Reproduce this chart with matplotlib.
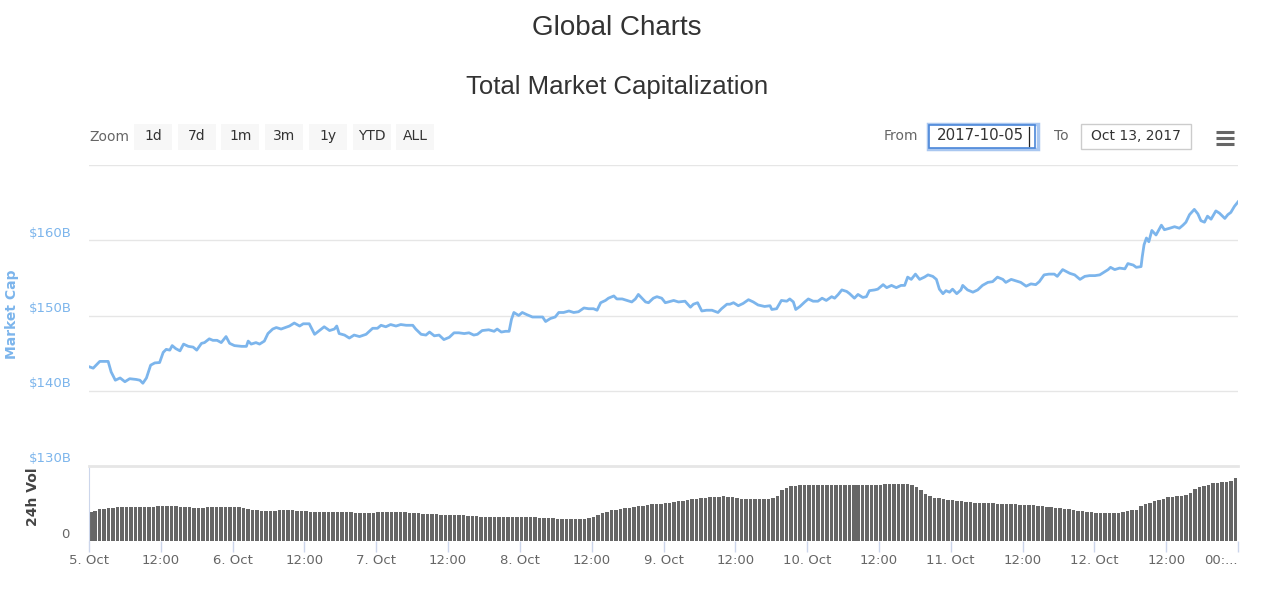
import matplotlib
matplotlib.use('Agg')
import matplotlib.pyplot as plt
from matplotlib.patches import Rectangle
from matplotlib.lines import Line2D
import matplotlib.transforms as mtransforms

# market cap, hours since 5 Oct 2017 00:00 -> $B
cap_hours = [
    0.0, 0.7, 1.8, 3.2, 3.7, 4.4, 5.2, 6.0, 6.8, 7.9, 8.5, 9.0, 9.6, 10.3, 11.0, 11.8,
    12.4, 12.9, 13.5, 13.9, 14.5, 15.2, 15.8, 16.6, 17.4, 18.0, 18.8, 19.3, 20.1, 20.7,
    21.4, 22.1, 22.9, 23.5, 24.3, 25.5, 26.3, 26.6, 27.1, 27.9, 28.5, 29.3, 29.9, 30.7,
    31.3, 32.1, 33.5, 34.3, 35.2, 35.8, 36.8, 37.7, 38.5, 39.3, 40.2, 41.0, 41.4, 41.8,
    42.7, 43.5, 44.3, 45.2, 46.3, 47.4, 48.2, 48.8, 49.6, 50.4, 51.3, 52.1, 53.0, 54.1,
    54.6, 55.5, 56.3, 56.9, 57.7, 58.5, 59.3, 60.2, 61.0, 61.8, 62.7, 63.5, 64.3, 64.9,
    65.7, 66.8, 67.7, 68.2, 68.9, 69.6, 70.2, 70.6, 71.0, 71.8, 72.4, 73.2, 74.1, 74.9,
    75.8, 76.3, 77.1, 77.9, 78.5, 79.3, 80.2, 81.0, 81.8, 82.7, 83.5, 84.3, 84.9, 85.5,
    86.3, 86.8, 87.7, 88.2, 89.1, 89.9, 90.7, 91.3, 91.8, 92.4, 93.0, 93.5, 94.3, 94.9,
    95.7, 96.3, 96.8, 97.7, 98.5, 99.6, 100.5, 101.0, 101.7, 102.4, 103.2, 104.1, 105.1,
    105.7, 106.6, 107.1, 107.7, 108.5, 109.3, 110.2, 111.0, 111.8, 112.9, 113.8, 114.1,
    114.9, 115.7, 116.6, 117.1, 117.7, 118.1, 118.8, 119.6, 120.2, 121.0, 121.8, 122.5,
    123.2, 124.1, 124.6, 125.2, 125.8, 126.6, 127.1, 127.9, 128.5, 129.3, 129.9, 130.4,
    131.3, 131.8, 132.7, 133.3, 134.1, 134.9, 135.7, 136.3, 136.8, 137.4, 138.1, 138.8,
    139.6, 140.2, 141.0, 141.6, 142.1, 142.7, 143.2, 143.8, 144.3, 145.0, 145.7, 146.0,
    146.8, 147.7, 148.5, 149.3, 150.2, 151.0, 151.8, 152.7, 153.2, 154.1, 154.9, 155.7,
    156.6, 157.4, 158.2, 158.8, 159.6, 160.4, 161.3, 161.8, 162.7, 163.9, 164.7, 165.6,
    166.4, 167.2, 168.1, 168.9, 169.5, 170.3, 170.7, 171.4, 172.2, 173.1, 173.6, 174.5,
    175.0, 175.8, 176.0, 176.3, 176.7, 177.1, 177.6, 178.3, 179.2, 179.7, 180.6, 181.4,
    182.2, 182.8, 183.3, 183.9, 184.7, 185.3, 185.8, 186.4, 186.9, 187.5, 188.3, 188.9,
    189.8, 190.3, 190.8, 191.4, 192.0,
]
cap_values = [
    143.2, 143.0, 143.9, 143.9, 142.5, 141.4, 141.7, 141.2, 141.6, 141.5, 141.4, 141.0,
    141.7, 143.4, 143.7, 143.75, 145.1, 145.5, 145.4, 146.0, 145.6, 145.3, 146.2, 145.9,
    145.8, 145.4, 146.3, 146.4, 146.9, 146.7, 146.7, 146.4, 147.2, 146.3, 146.0, 145.9,
    145.9, 146.6, 146.2, 146.4, 146.2, 146.6, 147.6, 148.2, 148.4, 148.2, 148.6, 149.0,
    148.6, 148.9, 148.9, 147.5, 148.0, 148.5, 148.0, 148.2, 148.6, 147.6, 147.4, 147.0,
    147.4, 147.2, 147.5, 148.3, 148.3, 148.7, 148.5, 148.8, 148.6, 148.8, 148.7, 148.7,
    148.2, 147.5, 147.4, 147.8, 147.3, 147.4, 146.8, 147.1, 147.7, 147.7, 147.6, 147.7,
    147.4, 147.5, 148.0, 148.1, 147.9, 148.2, 147.8, 147.9, 147.9, 149.5, 150.4, 150.0,
    150.4, 150.1, 149.8, 149.8, 149.8, 149.2, 149.6, 149.8, 150.4, 150.4, 150.6, 150.4,
    150.5, 151.0, 150.9, 150.9, 150.7, 151.7, 152.0, 152.3, 152.6, 152.2, 152.2, 152.0,
    151.8, 152.2, 152.8, 152.3, 151.8, 151.7, 152.3, 152.5, 152.3, 151.7, 151.8, 152.0,
    151.8, 151.9, 151.1, 151.5, 151.7, 150.6, 150.7, 150.7, 150.4, 150.9, 151.5, 151.5,
    151.7, 151.3, 151.6, 152.1, 151.8, 151.4, 151.2, 151.3, 150.8, 150.9, 152.0, 151.9,
    152.2, 151.8, 150.8, 151.2, 151.8, 152.2, 151.9, 151.9, 152.3, 152.0, 152.5, 152.3,
    152.8, 153.4, 153.2, 152.9, 152.3, 152.8, 152.4, 152.5, 153.3, 153.4, 153.5, 154.1,
    153.7, 154.0, 153.7, 154.0, 154.0, 155.1, 154.8, 155.5, 154.8, 155.1, 155.4, 155.2,
    154.8, 153.5, 152.9, 153.3, 153.1, 153.5, 152.9, 153.4, 154.0, 153.4, 153.1, 153.4,
    154.0, 154.4, 154.5, 155.1, 154.8, 154.4, 154.8, 154.6, 154.4, 153.9, 154.2, 154.1,
    154.5, 155.4, 155.5, 155.5, 155.2, 156.1, 155.6, 155.4, 154.8, 155.2, 155.3, 155.3,
    155.4, 155.7, 156.1, 156.4, 156.1, 156.3, 156.2, 156.9, 156.7, 156.4, 156.5, 157.8,
    159.4, 160.3, 159.8, 161.3, 160.7, 162.0, 161.4, 161.6, 161.8, 161.6, 162.0, 162.4,
    163.4, 164.1, 163.5, 162.6, 162.4, 163.2, 162.8, 163.9, 163.6, 162.9, 163.4, 163.7,
    164.5, 165.1,
]

# 24h volume, one bar every 45 minutes, $B (one row per day)
vol_step_hours = 0.75
vol_values = [
    3.06, 3.25, 3.38, 3.46, 3.52, 3.57, 3.62, 3.64, 3.65, 3.66, 3.67, 3.67, 3.66, 3.64, 3.68, 3.72,
    3.75, 3.76, 3.74, 3.69, 3.62, 3.60, 3.58, 3.55, 3.54, 3.56, 3.59, 3.61, 3.60, 3.60, 3.60, 3.60,
    3.60, 3.60, 3.55, 3.45, 3.36, 3.27, 3.24, 3.24, 3.24, 3.24, 3.26, 3.33, 3.35, 3.30, 3.24, 3.20,
    3.16, 3.12, 3.10, 3.10, 3.10, 3.11, 3.10, 3.10, 3.09, 3.09, 3.05, 3.02, 3.00, 3.00, 3.01, 3.03,
    3.06, 3.10, 3.13, 3.14, 3.13, 3.10, 3.06, 3.03, 3.00, 2.97, 2.93, 2.88, 2.84, 2.83, 2.82, 2.81,
    2.80, 2.79, 2.78, 2.74, 2.69, 2.65, 2.62, 2.60, 2.58, 2.57, 2.56, 2.55, 2.54, 2.54, 2.54, 2.54,
    2.54, 2.53, 2.52, 2.51, 2.49, 2.47, 2.45, 2.43, 2.40, 2.38, 2.36, 2.35, 2.34, 2.32, 2.34, 2.45,
    2.60, 2.78, 2.95, 3.10, 3.26, 3.35, 3.43, 3.50, 3.56, 3.62, 3.70, 3.77, 3.84, 3.90, 3.95, 4.00,
    4.05, 4.10, 4.17, 4.25, 4.32, 4.39, 4.45, 4.52, 4.57, 4.62, 4.65, 4.69, 4.72, 4.76, 4.74, 4.66,
    4.58, 4.53, 4.50, 4.47, 4.45, 4.43, 4.45, 4.52, 4.60, 4.80, 5.41, 5.70, 5.86, 5.92, 5.95, 5.95,
    5.95, 5.95, 5.95, 5.96, 5.96, 5.96, 5.96, 5.96, 5.96, 5.96, 5.96, 5.96, 5.96, 5.96, 5.97, 5.97,
    6.02, 6.04, 6.05, 6.05, 6.05, 6.05, 6.05, 6.00, 5.78, 5.40, 5.00, 4.75, 4.60, 4.55, 4.48, 4.42,
    4.38, 4.32, 4.22, 4.15, 4.12, 4.08, 4.05, 4.03, 4.02, 4.01, 4.00, 3.98, 3.95, 3.92, 3.90, 3.88,
    3.85, 3.82, 3.80, 3.77, 3.72, 3.65, 3.58, 3.54, 3.50, 3.45, 3.38, 3.30, 3.22, 3.15, 3.10, 3.06,
    3.04, 3.02, 3.00, 3.00, 3.00, 3.00, 3.10, 3.24, 3.28, 3.32, 3.70, 3.92, 4.10, 4.26, 4.40, 4.52,
    4.65, 4.74, 4.80, 4.85, 4.95, 5.10, 5.60, 5.75, 5.88, 6.02, 6.15, 6.22, 6.30, 6.34, 6.38, 6.67,
]

cap_ticks = [130, 140, 150, 160, 170]
cap_labels = ['$130B', '$140B', '$150B', '$160B', '']
x_ticks = [0, 12, 24, 36, 48, 60, 72, 84, 96, 108, 120, 132, 144, 156, 168, 180, 192]
x_labels = ['5. Oct', '12:00', '6. Oct', '12:00', '7. Oct', '12:00', '8. Oct', '12:00',
            '9. Oct', '12:00', '10. Oct', '12:00', '11. Oct', '12:00', '12. Oct', '12:00', '00:...']
zoom_buttons = ['1d', '7d', '1m', '3m', '1y', 'YTD', 'ALL']

W, H = 1280, 593
LINE = '#7cb5ec'
GRID = '#e6e6e6'


def fx(x):
    return x / W


def fy(y):
    return 1 - y / H


def main():
    plt.rcParams['font.family'] = ['DejaVu Sans']
    fig = plt.figure(figsize=(12.8, 5.93), dpi=100)
    fig.patch.set_facecolor('white')

    # titles
    fig.text(fx(617), fy(28), 'Global Charts', ha='center', va='center',
             fontsize=20, color='#333333', family='Liberation Sans')
    fig.text(fx(617), fy(87), 'Total Market Capitalization', ha='center', va='center',
             fontsize=18.5, color='#333333', family='Liberation Sans')

    # range selector
    fig.text(fx(89), fy(137), 'Zoom', ha='left', va='center', fontsize=10, color='#666666')
    for i, lab in enumerate(zoom_buttons):
        left = 134 + i * 43.7
        fig.patches.append(Rectangle((fx(left), fy(150)), fx(38), 26 / H, transform=fig.transFigure,
                                     facecolor='#f7f7f7', edgecolor='none'))
        fig.text(fx(left + 19), fy(136), lab, ha='center', va='center', fontsize=10, color='#333333')

    fig.text(fx(884), fy(136), 'From', ha='left', va='center', fontsize=10, color='#666666')
    fig.patches.append(Rectangle((fx(928), fy(149)), fx(110), 25 / H, transform=fig.transFigure,
                                 facecolor='white', edgecolor='#a9c7f0', linewidth=2.5))
    fig.patches.append(Rectangle((fx(929), fy(148)), fx(106), 23 / H, transform=fig.transFigure,
                                 facecolor='white', edgecolor='#4a86d8', linewidth=1.2))
    fig.text(fx(937), fy(136), '2017-10-05', ha='left', va='center', fontsize=10.8, color='#333333')
    fig.lines.append(Line2D([fx(1029), fx(1029)], [fy(127), fy(146)], transform=fig.transFigure,
                            color='#222222', linewidth=0.9))
    fig.text(fx(1054), fy(136), 'To', ha='left', va='center', fontsize=10, color='#666666')
    fig.patches.append(Rectangle((fx(1081), fy(149)), fx(110), 25 / H, transform=fig.transFigure,
                                 facecolor='white', edgecolor='#cccccc', linewidth=1))
    fig.text(fx(1136), fy(136), 'Oct 13, 2017', ha='center', va='center', fontsize=10, color='#333333')
    for yy in (132, 138, 144):
        fig.lines.append(Line2D([fx(1216), fx(1234)], [fy(yy), fy(yy)], transform=fig.transFigure,
                                color='#666666', linewidth=2.2, solid_capstyle='butt'))

    # main chart
    ax = fig.add_axes([fx(89), fy(466), fx(1238 - 89), (466 - 165) / H])
    ax.plot(cap_hours, cap_values, color=LINE, linewidth=2, solid_joinstyle='round')
    ax.set_xlim(0, 192)
    ax.set_ylim(130, 170)
    for s in ax.spines.values():
        s.set_visible(False)
    ax.set_xticks([])
    ax.set_yticks(cap_ticks)
    ax.tick_params(axis='y', length=0, labelleft=False)
    ax.grid(axis='y', color=GRID, linewidth=1)
    lab_tr = mtransforms.offset_copy(ax.get_yaxis_transform(), fig=fig, x=-17, y=7, units='dots')
    for v, lab in zip(cap_ticks, cap_labels):
        ax.text(0, v, lab, transform=lab_tr, ha='right', va='center', fontsize=9.5,
                color=LINE, clip_on=False)
    fig.text(fx(12), fy(314), 'Market Cap', rotation=90, ha='center', va='center',
             fontsize=10, color=LINE, fontweight='bold')

    # volume panel
    axv = fig.add_axes([fx(89), fy(541), fx(1238 - 89), (541 - 466) / H])
    vol_hours = [i * vol_step_hours for i in range(len(vol_values))]
    axv.bar(vol_hours, vol_values, width=vol_step_hours * 0.78, align='edge',
            color='#666666', edgecolor='none')
    axv.set_xlim(0, 192)
    axv.set_ylim(0, 8)
    axv.spines['right'].set_visible(False)
    axv.spines['bottom'].set_visible(False)
    axv.spines['top'].set_color(GRID)
    axv.spines['top'].set_linewidth(2)
    axv.spines['left'].set_color('#ccd6eb')
    axv.set_yticks([])
    axv.set_xticks(x_ticks)
    axv.set_xticklabels(x_labels)
    axv.tick_params(axis='x', length=8, width=1, color='#ccd6eb', pad=1,
                    labelsize=9.5, labelcolor='#666666')
    axv.get_xticklabels()[-1].set_horizontalalignment('right')
    zero_tr = mtransforms.offset_copy(axv.get_yaxis_transform(), fig=fig, x=-20, y=7, units='dots')
    axv.text(0, 0, '0', transform=zero_tr, ha='right', va='center', fontsize=9.5,
             color='#666666', clip_on=False)
    fig.text(fx(33), fy(497), '24h Vol', rotation=90, ha='center', va='center',
             fontsize=10, color='#444444', fontweight='bold')

    fig.savefig('out.png', dpi=100, facecolor='white')


if __name__ == '__main__':
    main()
